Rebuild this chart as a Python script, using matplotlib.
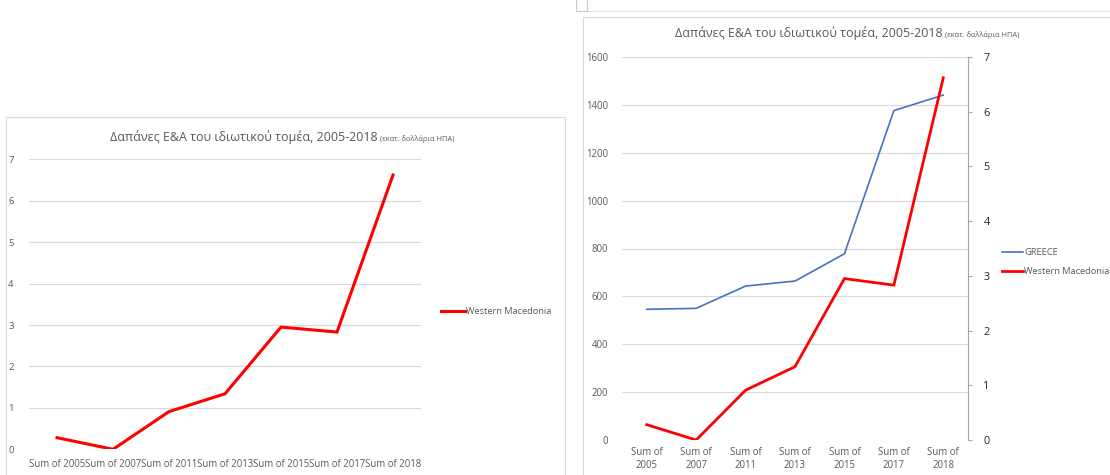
import numpy as np
import matplotlib
matplotlib.use("Agg")
from matplotlib import pyplot as plt
from matplotlib.lines import Line2D

plt.rcParams['font.family'] = ['Open Sans', 'DejaVu Sans']

categories = ['Sum of 2005', 'Sum of 2007', 'Sum of 2011', 'Sum of 2013',
              'Sum of 2015', 'Sum of 2017', 'Sum of 2018']
west_mac = [0.28, 0.0, 0.91, 1.34, 2.95, 2.83, 6.62]
greece = [546, 550, 643, 664, 778, 1376, 1441]
title_main = 'Δαπάνες Ε&Α του ιδιωτικού τομέα, 2005-2018'
title_sub = ' (εκατ. δολλάρια ΗΠΑ)'

W, H = 1110, 475
fig = plt.figure(figsize=(W / 100, H / 100), dpi=100)

txt = '#595959'
grid = '#D9D9D9'
red = '#FF0000'
blue = '#4472C4'


def px_axes(x0, x1, ytop, ybot):
    # pixel box -> figure fraction axes
    return fig.add_axes([x0 / W, (H - ybot) / H, (x1 - x0) / W, (ybot - ytop) / H])


def fig_line(xs, ys, color='#D9D9D9', lw=0.8):
    fig.add_artist(Line2D([x / W for x in xs], [(H - y) / H for y in ys],
                          transform=fig.transFigure, color=color, lw=lw))


# chart borders
fig_line([5.5, 5.5, 565, 565], [476, 117, 117, 476])
fig_line([583, 583, 1111], [476, 16.7, 16.7])
fig_line([576, 1111], [10.7, 10.7], color='#E3E3E3')
fig_line([576, 576, 587, 587], [0, 10.7, 10.7, 0], color='#C8C8C8')

x = np.arange(len(categories))

# ---- left chart
ax1 = px_axes(29, 421, 159.3, 449.3)
ax1.plot(x, west_mac, color=red, lw=2.2, label='Western Macedonia',
         solid_joinstyle='miter')
ax1.set_xlim(-0.5, 6.5)
ax1.set_ylim(0, 7)
ax1.set_yticks(range(0, 8))
ax1.set_xticks(x)
ax1.set_xticklabels(categories)
ax1.grid(axis='y', color=grid, lw=0.8)
ax1.set_axisbelow(True)
for s in ax1.spines.values():
    s.set_visible(False)
ax1.tick_params(length=0, labelsize=6.8, colors=txt, pad=7)
ax1.tick_params(axis='x', labelsize=6.95)
ax1.tick_params(axis='y', pad=11)
ax1.legend(loc='center left', bbox_to_anchor=(436 / W, (H - 312) / H),
           bbox_transform=fig.transFigure, frameon=False, fontsize=6.7,
           handlelength=2.6, handletextpad=0.1, borderpad=0, labelcolor=txt)
fig.text(378 / W, (H - 141) / H, title_main, ha='right', va='baseline',
         fontsize=9.0, color=txt)
fig.text(378 / W, (H - 141) / H, title_sub, ha='left', va='baseline',
         fontsize=5.4, color=txt)

# ---- right chart
ax2 = px_axes(622, 968, 57, 440)
ax3 = ax2.twinx()
l1, = ax2.plot(x, greece, color=blue, lw=1.2, label='GREECE')
l2, = ax3.plot(x, west_mac, color=red, lw=2.0, label='Western Macedonia',
               solid_joinstyle='miter')
ax2.set_xlim(-0.5, 6.5)
ax2.set_ylim(0, 1600)
ax2.set_yticks(range(0, 1601, 200))
ax3.set_ylim(0, 7)
ax3.set_yticks(range(0, 8))
ax2.set_xticks(x)
ax2.set_xticklabels([c.replace('of ', 'of\n') for c in categories],
                    linespacing=1.25)
ax2.grid(axis='y', color=grid, lw=0.8)
ax2.set_axisbelow(True)
for s in ax2.spines.values():
    s.set_visible(False)
for s in ax3.spines.values():
    s.set_visible(False)
ax3.spines['right'].set_visible(True)
ax3.spines['right'].set_color('#A6A6A6')
ax3.spines['right'].set_linewidth(0.8)
ax2.tick_params(length=0, labelsize=6.9, colors=txt)
ax2.tick_params(axis='y', pad=10)
ax2.tick_params(axis='x', pad=5)
ax3.tick_params(axis='y', length=3, width=0.8, color='#A6A6A6',
                labelsize=7.8, labelcolor='#262626', pad=8)
ax3.legend([l1, l2], ['GREECE', 'Western Macedonia'], loc='center left',
           bbox_to_anchor=(997 / W, (H - 262) / H),
           bbox_transform=fig.transFigure, frameon=False, fontsize=6.7,
           handlelength=2.3, handletextpad=0.1, borderpad=0,
           labelspacing=1.05, labelcolor=txt)
fig.text(943 / W, (H - 37) / H, title_main, ha='right', va='baseline',
         fontsize=9.0, color=txt)
fig.text(943 / W, (H - 37) / H, title_sub, ha='left', va='baseline',
         fontsize=5.4, color=txt)

fig.savefig('out.png', dpi=100, facecolor='white')
